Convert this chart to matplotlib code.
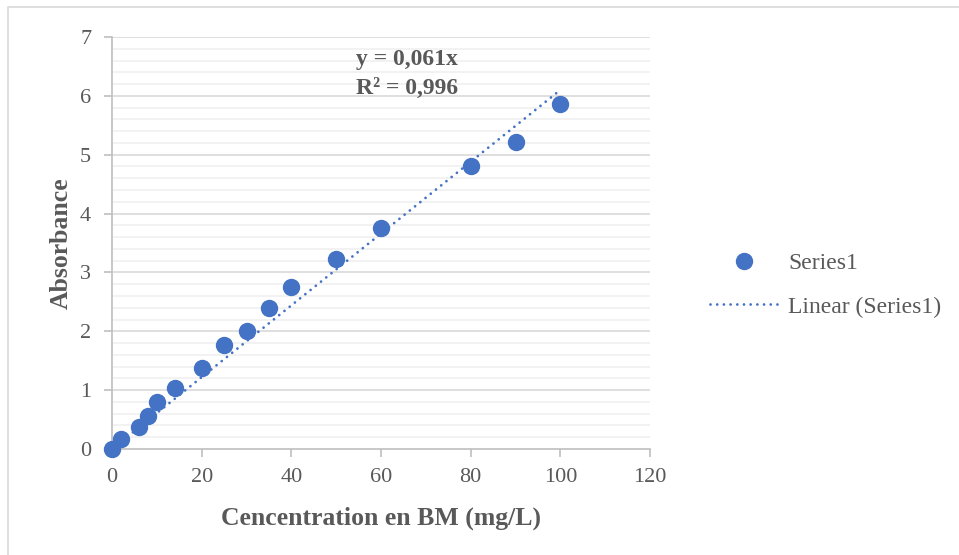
import numpy as np
import matplotlib.pyplot as plt
from matplotlib.patches import Rectangle
from matplotlib.lines import Line2D

# Données
concentration = [0, 2, 6, 8, 10, 14, 20, 25, 30, 35, 40, 50, 60, 80, 90, 100]
absorbance = [0, 0.17, 0.37, 0.56, 0.80, 1.04, 1.37, 1.77, 2.00, 2.40, 2.75, 3.23, 3.75, 4.80, 5.22, 5.87]
pente = 0.061
x_ticks = [0, 20, 40, 60, 80, 100, 120]
y_ticks = [0, 1, 2, 3, 4, 5, 6, 7]

bleu = '#4472C4'
gris_texte = '#595959'
pointille = (0, (0.01, 2.4))
plt.rcParams['font.family'] = ['Liberation Serif', 'DejaVu Serif']

fig = plt.figure(figsize=(9.59, 5.55), dpi=100)
fig.patches.append(Rectangle((8 / 959, -0.01), 1.0, 1 - 7 / 555 + 0.01,
                             transform=fig.transFigure, fill=False,
                             edgecolor='#d9d9d9', linewidth=1.2))

ax = fig.add_axes([112 / 959, 1 - 449 / 555, (650 - 112) / 959, (449 - 37) / 555])

# grille
for y in np.arange(0.2, 7.0, 0.2):
    if abs(y - round(y)) > 1e-6:
        ax.axhline(y, color='#f0f0f0', linewidth=1.2, zorder=0)
for y in y_ticks[1:]:
    ax.axhline(y, color='#d9d9d9', linewidth=1.2, zorder=0)

# courbe de tendance
xt = np.array([0, 100])
ax.plot(xt, pente * xt, linestyle=pointille, color=bleu, linewidth=2.0,
        dash_capstyle='round', zorder=2)
ax.plot(concentration, absorbance, 'o', color=bleu, markersize=11.5, zorder=3,
        clip_on=False)

ax.set_xlim(0, 120)
ax.set_ylim(0, 7)
ax.set_xticks(x_ticks)
ax.set_yticks(y_ticks)
for s in ['top', 'right']:
    ax.spines[s].set_visible(False)
for s in ['left', 'bottom']:
    ax.spines[s].set_color('#bfbfbf')
    ax.spines[s].set_linewidth(1.2)
ax.tick_params(axis='both', colors='#bfbfbf', labelcolor=gris_texte, labelsize=16,
               length=6, width=1.2)
ax.tick_params(axis='x', pad=8)
ax.tick_params(axis='y', pad=9)

ax.set_xlabel('Cencentration en BM (mg/L)', fontsize=18.5, fontweight='bold',
              color=gris_texte, labelpad=14)
ax.set_ylabel('Absorbance', fontsize=18.5, fontweight='bold', color=gris_texte,
              labelpad=5)

ax.text(407 / 959, 1 - 60 / 555, 'y = 0,061x', transform=fig.transFigure,
        ha='center', va='center', fontsize=17, fontweight='bold', color=gris_texte)
ax.text(407 / 959, 1 - 88 / 555, 'R² = 0,996', transform=fig.transFigure,
        ha='center', va='center', fontsize=17, fontweight='bold', color=gris_texte)

handles = [Line2D([], [], marker='o', linestyle='none', color=bleu, markersize=11.5),
           Line2D([], [], linestyle=pointille, color=bleu, linewidth=2.0,
                  dash_capstyle='round')]
leg = fig.legend(handles, ['Series1', 'Linear (Series1)'], loc='center left',
                 bbox_to_anchor=(710 / 959, 1 - 285 / 555), frameon=False,
                 borderpad=0, borderaxespad=0,
                 fontsize=17, labelspacing=0.95, handlelength=2.9, handletextpad=0.4)
for t in leg.get_texts():
    t.set_color(gris_texte)

fig.savefig('out.png', dpi=100)
